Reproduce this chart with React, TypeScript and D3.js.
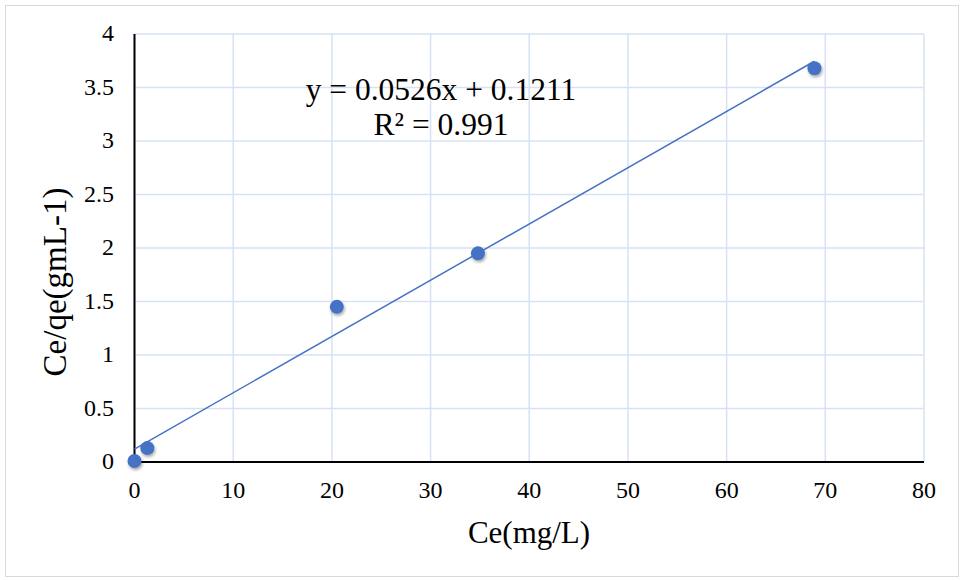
import React from 'react';
import * as d3 from 'd3';

// data
const ceValues = [0, 1.3, 20.5, 34.8, 68.9];
const ratioValues = [0.01, 0.13, 1.45, 1.95, 3.68];
const xTicks = [0, 10, 20, 30, 40, 50, 60, 70, 80];
const yTicks = [0, 0.5, 1, 1.5, 2, 2.5, 3, 3.5, 4];
const slope = 0.0526;
const intercept = 0.1211;
const equationLines = ['y = 0.0526x + 0.1211', 'R² = 0.991'];

const W = 964;
const H = 580;
const font = '"Liberation Serif", "Times New Roman", serif';
const blue = '#4472c4';

const App = () => {
  const x = d3.scaleLinear().domain([0, 80]).range([134.5, 924]);
  const y = d3.scaleLinear().domain([0, 4]).range([462, 34]);

  const points = ceValues.map((c, i) => ({ x: c, y: ratioValues[i] }));
  const trendX = [0, d3.max(ceValues) as number];
  const line = d3.line<number>()
    .x(d => x(d))
    .y(d => y(slope * d + intercept));

  return (
    <svg width={W} height={H} style={{ display: 'block', position: 'absolute', left: 0, top: 0 }}>
      <defs>
        <filter id="shadow" x="-50%" y="-50%" width="200%" height="200%">
          <feDropShadow dx="1" dy="2" stdDeviation="1.8" floodColor="#000" floodOpacity="0.35" />
        </filter>
      </defs>
      <rect x={0} y={0} width={W} height={H} fill="#fff" />
      <rect x={5.5} y={5.5} width={953} height={571} fill="none" stroke="#d9d9d9" />

      {/* grid */}
      {xTicks.map(t => (
        <line key={'gx' + t} x1={x(t)} x2={x(t)} y1={y(0)} y2={y(4)} stroke="#d6e2f3" strokeWidth={1.5} />
      ))}
      {yTicks.map(t => (
        <line key={'gy' + t} x1={x(0)} x2={x(80)} y1={y(t)} y2={y(t)} stroke="#d6e2f3" strokeWidth={1.5} />
      ))}

      {/* axes */}
      <line x1={x(0)} x2={x(0)} y1={y(0)} y2={y(4)} stroke="#000" strokeWidth={2} />
      <line x1={x(0)} x2={x(80)} y1={y(0)} y2={y(0)} stroke="#000" strokeWidth={2} />

      {yTicks.map(t => (
        <text key={'yl' + t} x={114} y={y(t)} dy="0.3em" textAnchor="end"
          fontFamily={font} fontSize={24} fill="#000">{t}</text>
      ))}
      {xTicks.map(t => (
        <text key={'xl' + t} x={x(t)} y={498} textAnchor="middle"
          fontFamily={font} fontSize={24} fill="#000">{t}</text>
      ))}

      {/* trendline */}
      <path d={line(trendX) || ''} fill="none" stroke={blue} strokeWidth={1.5} />

      {points.map((p, i) => (
        <circle key={i} cx={x(p.x)} cy={y(p.y)} r={7} fill={blue} filter="url(#shadow)" />
      ))}

      {equationLines.map((s, i) => (
        <text key={s} x={441} y={100 + i * 35} textAnchor="middle"
          fontFamily={font} fontSize={31.5} fill="#000">{s}</text>
      ))}

      <text x={529} y={543} textAnchor="middle" fontFamily={font} fontSize={31} fill="#000">Ce(mg/L)</text>
      <text transform={`translate(66, 282) rotate(-90)`} textAnchor="middle"
        fontFamily={font} fontSize={33} fill="#000">Ce/qe(gmL-1)</text>
    </svg>
  );
};

export default App;
